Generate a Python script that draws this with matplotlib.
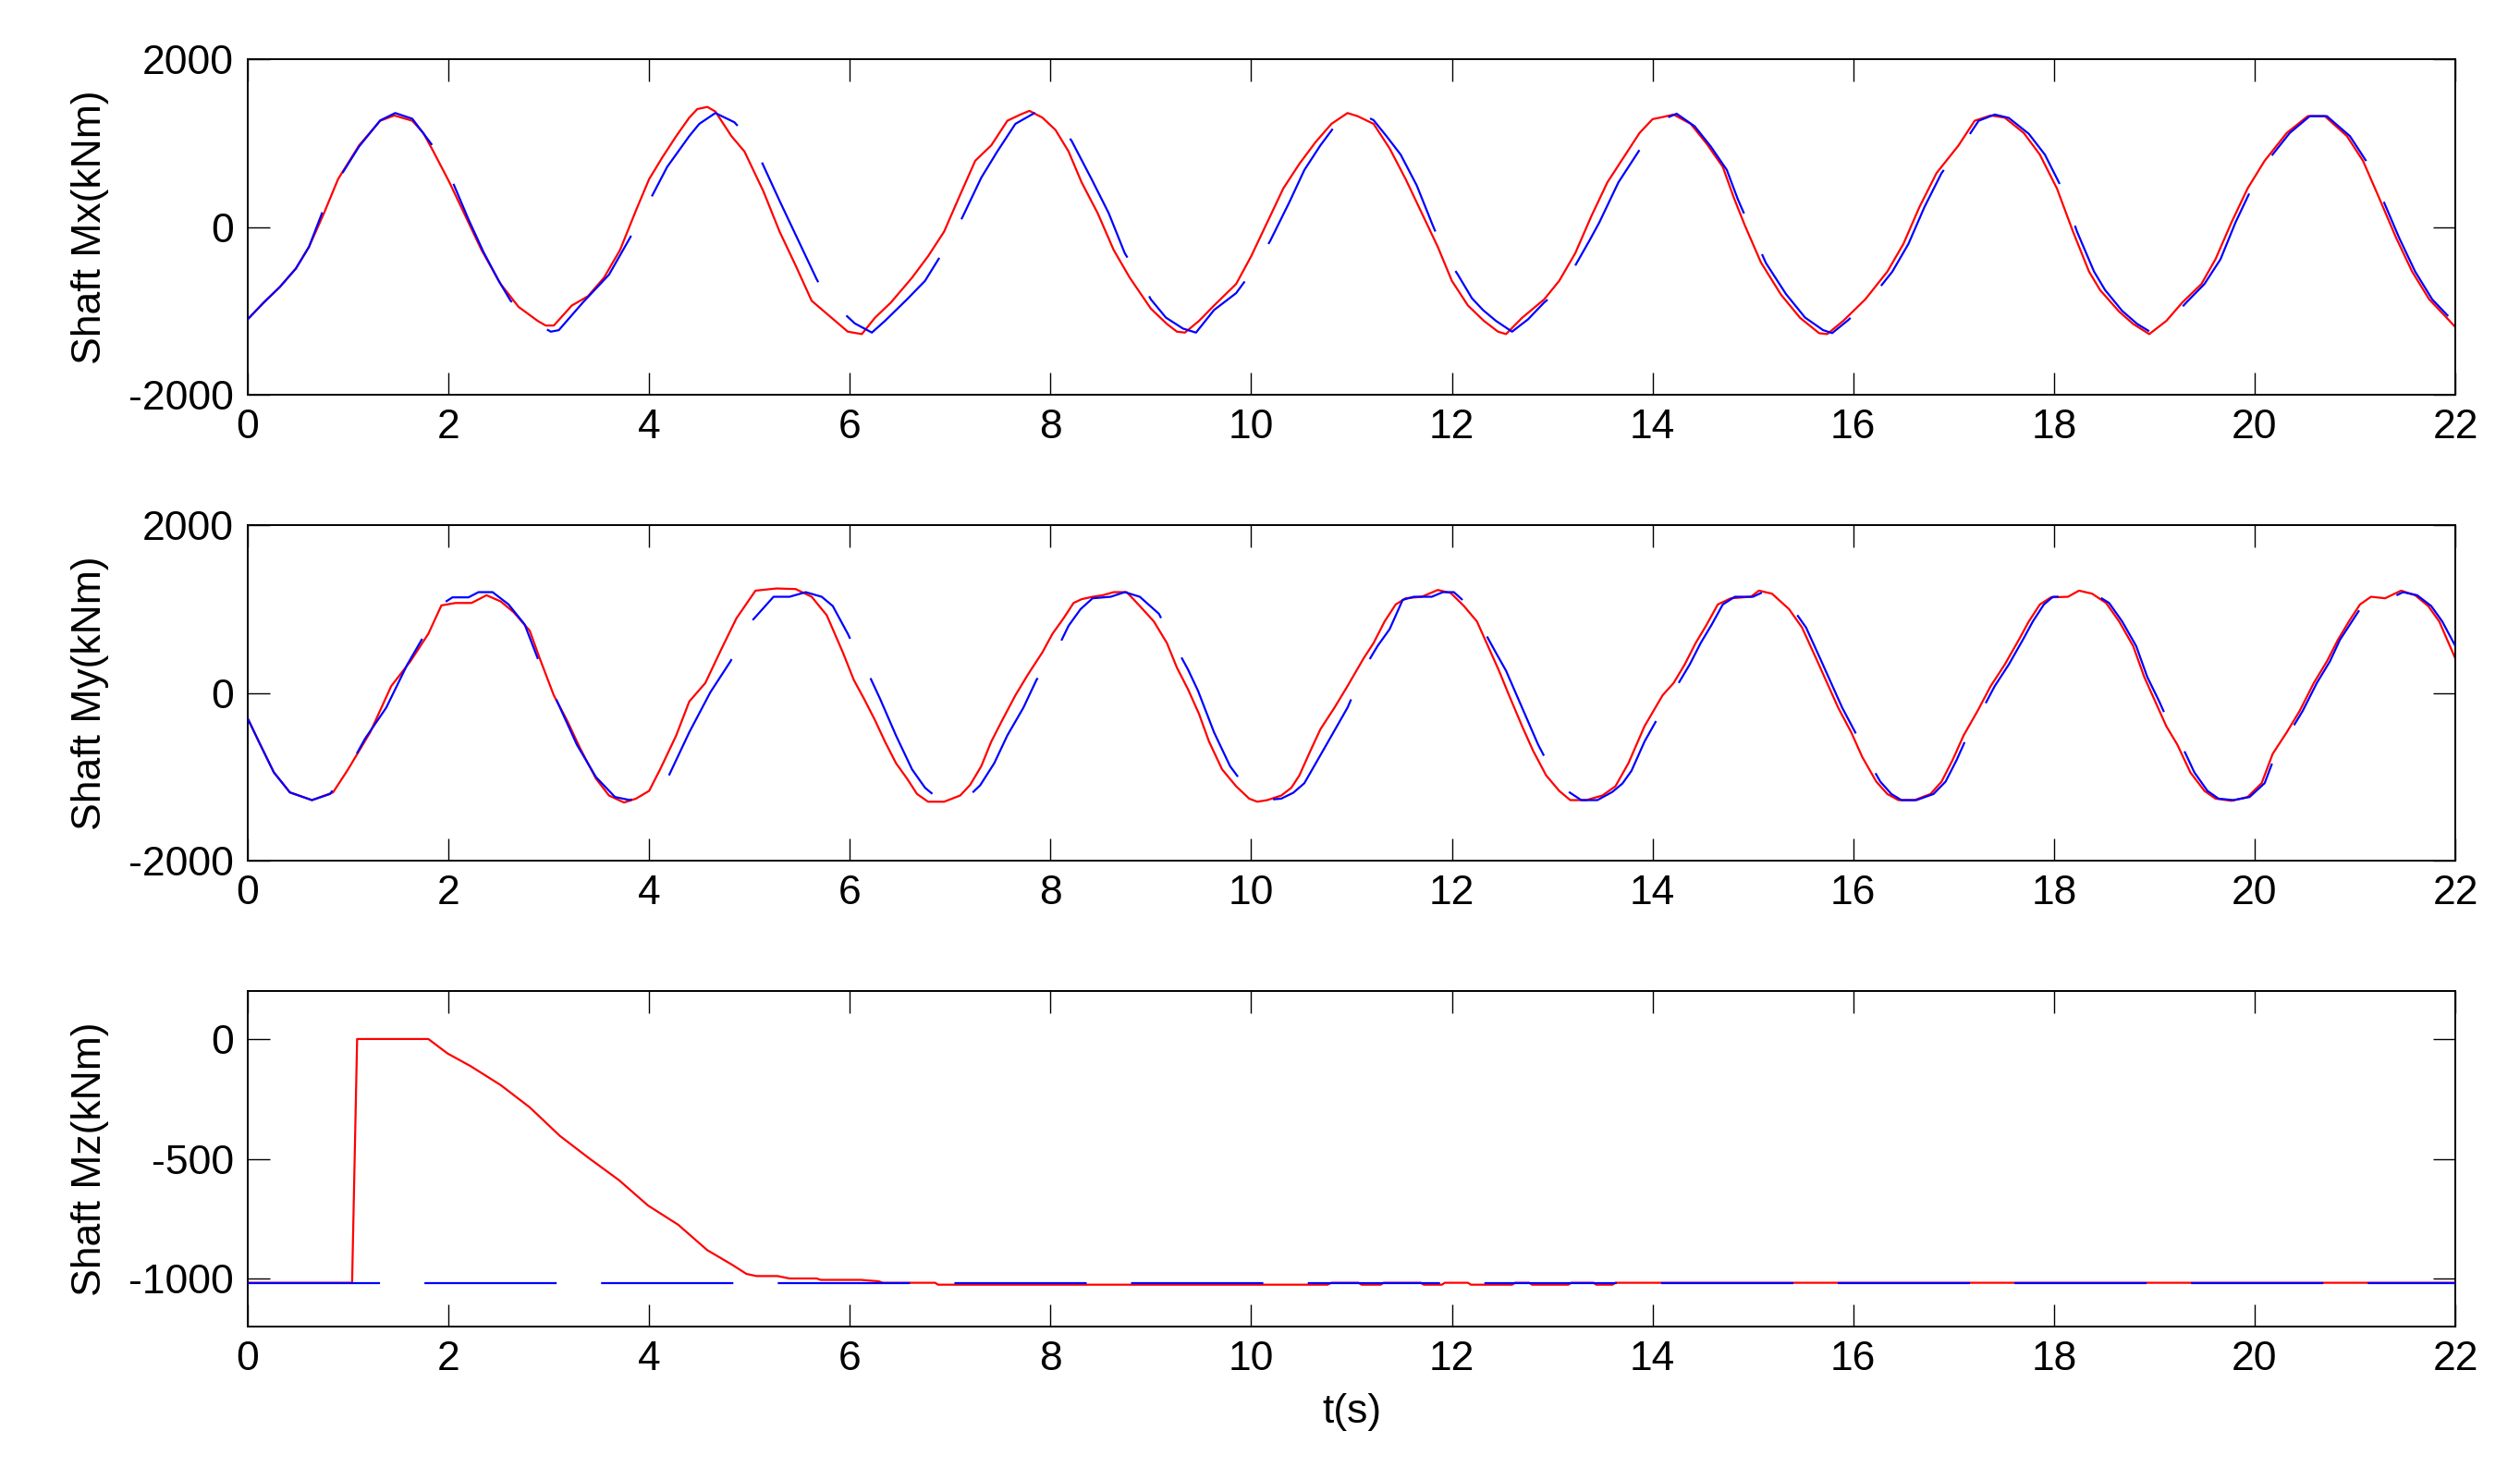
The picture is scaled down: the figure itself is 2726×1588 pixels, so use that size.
import numpy as np
import matplotlib
matplotlib.use('Agg')
import matplotlib.pyplot as plt

plt.rcParams['font.family'] = ['Liberation Sans', 'DejaVu Sans']
plt.rcParams['font.size'] = 16
plt.rcParams['lines.scale_dashes'] = False
plt.rcParams['axes.unicode_minus'] = False

# Shaft Mx, red (solid) and blue (dashed)
mx_red_t = [0, 0.16, 0.32, 0.48, 0.61, 0.76, 0.9, 1.11, 1.32, 1.46, 1.64, 1.75, 1.85, 2.01, 2.17, 2.33,
            2.52, 2.70, 2.89, 2.97, 3.05, 3.23, 3.39, 3.55, 3.71, 3.87, 4.0, 4.13, 4.27, 4.40, 4.48, 4.58,
            4.66, 4.82, 4.95, 5.14, 5.30, 5.46, 5.62, 5.80, 5.98, 6.12, 6.25, 6.41, 6.62, 6.78, 6.94, 7.10,
            7.25, 7.41, 7.57, 7.70, 7.79, 7.92, 8.05, 8.18, 8.31, 8.47, 8.63, 8.79, 9.0, 9.16, 9.26, 9.34,
            9.48, 9.63, 9.85, 10.0, 10.16, 10.32, 10.48, 10.64, 10.80, 10.96, 11.06, 11.22, 11.38, 11.54,
            11.70, 11.86, 12.0, 12.16, 12.32, 12.46, 12.54, 12.70, 12.92, 13.07, 13.23, 13.39, 13.55, 13.71,
            13.87, 14.0, 14.10, 14.21, 14.38, 14.54, 14.70, 14.81, 14.92, 15.08, 15.28, 15.47, 15.66, 15.74,
            15.90, 16.12, 16.34, 16.50, 16.66, 16.83, 17.05, 17.21, 17.37, 17.51, 17.70, 17.86, 18.03, 18.19,
            18.35, 18.46, 18.65, 18.79, 18.95, 19.12, 19.28, 19.47, 19.61, 19.77, 19.93, 20.10, 20.32, 20.53,
            20.70, 20.92, 21.08, 21.24, 21.41, 21.57, 21.74, 21.90, 22.0]
mx_red_v = [-1100, -900, -715, -495, -238, 165, 570, 973, 1266, 1329, 1266, 1120, 900, 532, 128, -275,
            -680, -954, -1120, -1175, -1175, -936, -826, -605, -275, 200, 570, 826, 1083, 1303, 1405, 1431,
            1376, 1083, 900, 422, -55, -459, -880, -1064, -1248, -1277, -1083, -900, -605, -349, -55, 385,
            789, 973, 1266, 1340, 1384, 1303, 1156, 900, 532, 165, -275, -605, -973, -1156, -1248, -1259,
            -1120, -936, -680, -349, 55, 459, 752, 1009, 1229, 1358, 1321, 1229, 936, 569,
            165, -238, -642, -936, -1120, -1248, -1277, -1083, -863, -642, -312, 128, 532, 826,
            1120, 1285, 1310, 1340, 1229, 991, 716, 349, 18, -422, -807, -1083, -1266, -1277,
            -1120, -863, -532, -202, 238, 642, 973, 1266, 1329, 1303, 1120, 862, 459, -55,
            -532, -752, -1009, -1156, -1277, -1120, -900, -680, -385, 55, 459, 789, 1120, 1321,
            1321, 1083, 789, 349, -128, -532, -863, -1064, -1193]

mx_blue_t = [0, 0.16, 0.32, 0.48, 0.61, 0.74, 0.9, 1.11, 1.32, 1.47, 1.64, 1.84, 2.05, 2.20, 2.35, 2.50,
             2.62, 2.80, 2.95, 3.02, 3.10, 3.34, 3.60, 3.81, 4.02, 4.18, 4.40, 4.50, 4.66, 4.85, 5.0, 5.11,
             5.30, 5.46, 5.67, 5.80, 5.94, 6.05, 6.22, 6.35, 6.57, 6.75, 6.94, 7.12, 7.31, 7.47, 7.65, 7.84,
             7.97, 8.10, 8.21, 8.41, 8.58, 8.74, 8.87, 9.0, 9.15, 9.32, 9.45, 9.63, 9.85, 10.03, 10.19, 10.38,
             10.53, 10.69, 10.85, 11.06, 11.22, 11.35, 11.49, 11.65, 11.81, 11.94, 12.06, 12.20, 12.31, 12.44,
             12.60, 12.76, 12.92, 13.07, 13.23, 13.37, 13.47, 13.66, 13.82, 13.98, 14.11, 14.24, 14.42, 14.58,
             14.74, 14.85, 14.97, 15.13, 15.33, 15.52, 15.70, 15.79, 15.95, 16.17, 16.39, 16.55, 16.71, 16.88,
             17.08, 17.25, 17.41, 17.55, 17.75, 17.91, 18.08, 18.23, 18.40, 18.51, 18.68, 18.83, 18.98, 19.15,
             19.32, 19.50, 19.66, 19.81, 19.97, 20.13, 20.35, 20.55, 20.72, 20.95, 21.11, 21.27, 21.44, 21.60,
             21.77, 21.93, 22.0]
mx_blue_v = [-1100, -900, -715, -495, -238, 165, 560, 960, 1270, 1358, 1290, 973, 514, 90, -300, -640,
             -880, -1060, -1200, -1248, -1230, -900, -569, -128, 349, 716, 1083, 1229, 1358, 1248, 1050, 807,
             312, -92, -624, -900, -1028, -1150, -1259, -1120, -863, -642, -275, 110, 587, 900, 1229, 1358,
             1303, 1193, 1028, 569, 165, -312, -569, -863, -1080, -1211, -1259, -990, -789, -495, -165, 294,
             679, 973, 1229, 1369, 1273, 1080, 862, 495, 18, -349, -569, -850, -990, -1120,
             -1248, -1100, -900, -752, -459, -165, 55, 532, 826, 1120, 1285, 1350, 1200, 960,
             680, 330, 0, -430, -800, -1080, -1230, -1265, -1110, -863, -532, -202, 238, 642,
             960, 1266, 1340, 1300, 1110, 862, 459, -55, -532, -752, -1000, -1156, -1265, -1120,
             -900, -680, -385, 55, 459, 789, 1120, 1321, 1321, 1083, 789, 349, -128, -532,
             -863, -1064, -1156]

# Shaft My
my_red_t = [0, 0.11, 0.26, 0.42, 0.64, 0.85, 1.0, 1.22, 1.43, 1.62, 1.80, 1.93, 2.07, 2.23, 2.38, 2.52,
            2.65, 2.81, 2.91, 3.05, 3.18, 3.31, 3.47, 3.60, 3.75, 3.87, 4.0, 4.11, 4.27, 4.40, 4.56, 4.72,
            4.87, 5.06, 5.27, 5.46, 5.62, 5.77, 5.93, 6.04, 6.14, 6.25, 6.35, 6.46, 6.57, 6.67, 6.78, 6.94,
            7.10, 7.20, 7.31, 7.41, 7.52, 7.65, 7.78, 7.92, 8.02, 8.13, 8.23, 8.31, 8.42, 8.52, 8.63, 8.76,
            8.89, 9.03, 9.16, 9.26, 9.37, 9.48, 9.58, 9.71, 9.85, 9.98, 10.06, 10.16, 10.30, 10.40, 10.48,
            10.59, 10.69, 10.83, 10.96, 11.12, 11.22, 11.33, 11.44, 11.54, 11.70, 11.86, 11.99, 12.12, 12.25,
            12.36, 12.47, 12.57, 12.70, 12.81, 12.94, 13.07, 13.18, 13.34, 13.50, 13.63, 13.76, 13.92, 14.10,
            14.21, 14.32, 14.43, 14.54, 14.65, 14.78, 14.98, 15.06, 15.19, 15.36, 15.49, 15.63, 15.74, 15.85,
            15.98, 16.09, 16.23, 16.34, 16.45, 16.61, 16.77, 16.88, 16.99, 17.10, 17.24, 17.37, 17.51, 17.65,
            17.75, 17.86, 17.97, 18.14, 18.25, 18.38, 18.52, 18.65, 18.79, 18.90, 19.01, 19.12, 19.23, 19.36,
            19.50, 19.61, 19.77, 19.93, 20.07, 20.18, 20.32, 20.45, 20.59, 20.72, 20.83, 20.94, 21.05, 21.16,
            21.30, 21.46, 21.60, 21.73, 21.84, 22.0]
my_red_v = [-305, -580, -947, -1186, -1278, -1186, -911, -470, 81, 375, 705, 1043, 1072, 1072, 1164, 1091,
            962, 742, 411, -29, -323, -654, -1021, -1223, -1307, -1260, -1168, -911, -507, -103, 118, 522,
            889, 1219, 1245, 1238, 1146, 926, 485, 154, -66, -323, -580, -837, -1021, -1205, -1297, -1297,
            -1223, -1095, -874, -580, -323, -29, 228, 485, 705, 889, 1072, 1117, 1146, 1164, 1201, 1201,
            1036, 852, 595, 301, 44, -250, -580, -911, -1113, -1260, -1297, -1278, -1223, -1131, -984,
            -691, -433, -176, 81, 411, 595, 852, 1054, 1128, 1146, 1227, 1190, 1036, 852,
            558, 264, -29, -397, -691, -984, -1168, -1278, -1278, -1223, -1113, -837, -397, -29,
            118, 338, 595, 815, 1054, 1128, 1146, 1219, 1183, 999, 779, 411, 118, -176,
            -470, -764, -1058, -1205, -1278, -1278, -1205, -1058, -801, -507, -213, 81, 338, 632,
            852, 1054, 1139, 1146, 1219, 1183, 1072, 852, 558, 191, -103, -397, -617, -948,
            -1168, -1260, -1286, -1241, -1076, -727, -470, -213, 118, 375, 632, 852, 1054, 1146,
            1128, 1219, 1164, 1036, 852, 411]

my_blue_t = [0, 0.11, 0.26, 0.42, 0.64, 0.82, 1.0, 1.17, 1.38, 1.59, 1.75, 1.93, 2.04, 2.20, 2.30, 2.44,
             2.60, 2.76, 2.89, 3.07, 3.28, 3.47, 3.66, 3.81, 4.0, 4.19, 4.40, 4.61, 4.81, 5.02, 5.24, 5.40,
             5.56, 5.72, 5.83, 5.98, 6.08, 6.20, 6.30, 6.46, 6.62, 6.75, 6.88, 7.04, 7.17, 7.30, 7.44, 7.57,
             7.73, 7.86, 8.0, 8.07, 8.18, 8.30, 8.42, 8.60, 8.74, 8.89, 9.08, 9.26, 9.37, 9.47, 9.63, 9.79,
             9.95, 10.14, 10.30, 10.42, 10.53, 10.75, 10.96, 11.14, 11.26, 11.38, 11.51, 11.62, 11.80, 11.91,
             12.02, 12.19, 12.31, 12.42, 12.54, 12.70, 12.86, 13.02, 13.15, 13.29, 13.45, 13.60, 13.70, 13.79,
             13.92, 14.11, 14.26, 14.37, 14.48, 14.59, 14.70, 14.82, 15.0, 15.10, 15.22, 15.40, 15.53, 15.67,
             15.78, 15.89, 16.02, 16.13, 16.27, 16.38, 16.48, 16.63, 16.80, 16.92, 17.03, 17.14, 17.28, 17.41,
             17.55, 17.69, 17.79, 17.90, 17.99, 18.15, 18.27, 18.40, 18.55, 18.68, 18.82, 18.93, 19.05, 19.16,
             19.27, 19.40, 19.53, 19.64, 19.79, 19.95, 20.10, 20.21, 20.35, 20.48, 20.62, 20.75, 20.85, 20.97,
             21.08, 21.18, 21.32, 21.48, 21.62, 21.76, 21.87, 22.0]
my_blue_v = [-305, -580, -947, -1186, -1278, -1205, -911, -544, -176, 338, 668, 1054, 1139, 1139, 1201, 1201,
             1054, 815, 411, -66, -617, -1003, -1241, -1278, -1150, -1003, -470, 7, 375, 852, 1146, 1146,
             1201, 1146, 1036, 705, 450, 191, -66, -507, -911, -1131, -1260, -1278, -1249, -1100, -837, -507,
             -176, 154, 411, 529, 800, 999, 1128, 1146, 1201, 1146, 944, 522, 280, 26, -470, -874,
             -1131, -1278, -1260, -1190, -1076, -617, -176, 320, 560, 760, 1109, 1146, 1146, 1201,
             1201, 1017, 760, 520, 264, -176, -617, -984, -1168, -1278, -1278, -1180, -1080, -929,
             -580, -176, 118, 338, 595, 815, 1054, 1146, 1146, 1201, 1183, 999, 779, 411,
             118, -176, -470, -764, -1058, -1205, -1278, -1278, -1205, -1058, -801, -507, -213, 81,
             338, 632, 852, 1054, 1146, 1146, 1201, 1183, 1072, 852, 558, 191, -103, -397,
             -617, -948, -1168, -1260, -1278, -1241, -1076, -727, -470, -213, 118, 375, 632, 852,
             1054, 1146, 1110, 1201, 1164, 1036, 852, 560]

# Shaft Mz
mz_red_t = [0, 1.04, 1.09, 1.80, 1.99, 2.22, 2.52, 2.81, 3.11, 3.40, 3.70, 3.99, 4.29, 4.58, 4.82, 4.97,
            5.07, 5.28, 5.40, 5.67, 5.71, 6.11, 6.29, 6.33, 6.85, 6.88, 10.76, 10.80, 11.07, 11.10, 11.29,
            11.32, 11.69, 11.72, 11.90, 11.93, 12.16, 12.19, 12.60, 12.63, 12.77, 12.80, 13.16, 13.19, 13.41,
            13.44, 13.60, 13.63, 22.0]
mz_red_v = [-1017, -1017, 0, 0, -60, -113, -192, -285, -404, -497, -589, -695, -775, -881, -940, -980,
            -989, -989, -999, -999, -1005, -1005, -1011, -1017, -1017, -1025, -1025, -1017, -1017, -1025, -1025,
            -1017, -1017, -1025, -1025, -1017, -1017, -1025, -1025, -1017, -1017, -1025, -1025, -1017, -1017,
            -1025, -1025, -1017, -1017]
mz_blue_t = [0, 22.0]
mz_blue_v = [-1017, -1017]

x_ticks = [0, 2, 4, 6, 8, 10, 12, 14, 16, 18, 20, 22]
panels = [
    ('Shaft Mx(kNm)', mx_red_t, mx_red_v, mx_blue_t, mx_blue_v, (-2000, 2000), [-2000, 0, 2000]),
    ('Shaft My(kNm)', my_red_t, my_red_v, my_blue_t, my_blue_v, (-2000, 2000), [-2000, 0, 2000]),
    ('Shaft Mz(kNm)', mz_red_t, mz_red_v, mz_blue_t, mz_blue_v, (-1200, 200), [-1000, -500, 0]),
]

fig = plt.figure(figsize=(13.63, 7.94), dpi=200)
left, width, height = 268 / 2726, 2388 / 2726, 363 / 1588
bottoms = [0.7311, 0.4137, 0.0963]

for (label, rt, rv, bt, bv, ylim, yticks), b in zip(panels, bottoms):
    ax = fig.add_axes([left, b, width, height])
    ax.plot(rt, rv, color='red', lw=0.8, zorder=2)
    ax.plot(bt, bv, color='blue', lw=0.8, linestyle=(0, (51.5, 17.3)), zorder=3)
    ax.set_xlim(0, 22)
    ax.set_ylim(*ylim)
    ax.set_xticks(x_ticks)
    ax.set_yticks(yticks)
    ax.tick_params(direction='in', length=8.6, width=0.5, pad=5.5, top=True, right=True, labelsize=16)
    for s in ax.spines.values():
        s.set_linewidth(0.7)
    ax.set_ylabel(label, fontsize=16)
    ax.yaxis.set_label_coords(-0.063, 0.5)

ax.set_xlabel('t(s)', fontsize=16, va='top')
ax.xaxis.set_label_coords(0.5, -0.197)

fig.savefig('out.png', dpi=200)
